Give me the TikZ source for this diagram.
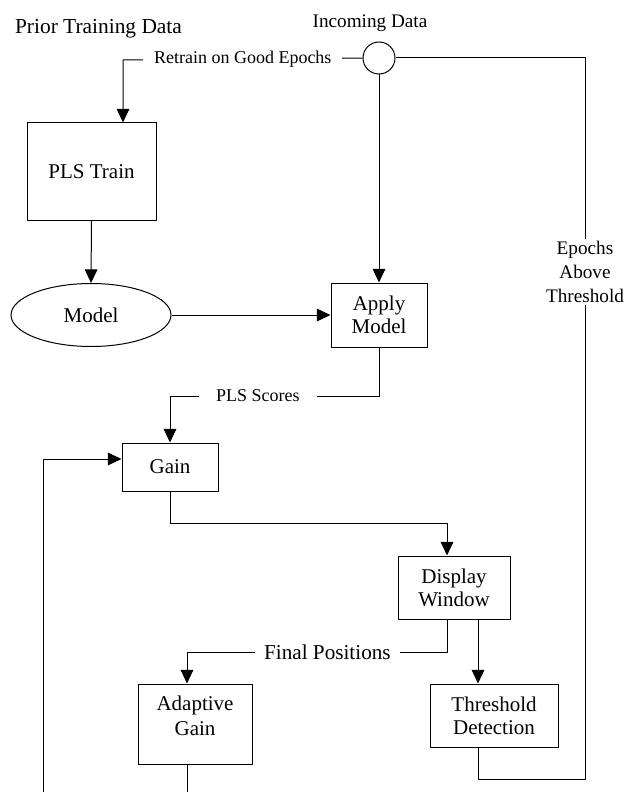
\documentclass[tikz,border=0pt]{standalone}
\usepackage{fontspec}
\setmainfont{Liberation Serif}
\usetikzlibrary{arrows.meta,shapes.geometric}

\tikzset{
  blk/.style={draw, rectangle, line width=0.5pt, inner sep=0pt, align=center,
    font=\fontsize{10.5}{11.5}\selectfont},
  lbl/.style={fill=white, inner ysep=1pt, font=\fontsize{9}{10}\selectfont},
  flow/.style={line width=0.5pt, -{Triangle[length=6.8pt,width=6.3pt]}},
  wire/.style={line width=0.5pt},
}

\begin{document}
\begin{tikzpicture}[x=0.5pt,y=-0.5pt]
\useasboundingbox (0,0) rectangle (629,792);

% inputs
\node[font=\fontsize{10.7}{12}\selectfont] (prior) at (98.5,29) {Prior Training Data};
\node[font=\fontsize{9.6}{11}\selectfont] (incoming) at (370,23) {Incoming Data};
\node[circle, draw, line width=0.5pt, minimum size=16pt, inner sep=0pt] (join) at (379,58) {};

% blocks
\node[blk, minimum width=64.5pt, minimum height=48.5pt] (train) at (91.5,171.5) {PLS Train};
\node[blk, ellipse, minimum width=80pt, minimum height=31.5pt] (model) at (91,315) {Model};
\node[blk, minimum width=48pt, minimum height=32pt] (apply) at (379,315) {Apply\\Model};
\node[blk, minimum width=48pt, minimum height=24pt] (gain) at (170,467) {Gain};
\node[blk, minimum width=56pt, minimum height=31.5pt] (display) at (454,587.5) {Display\\Window};
\node[blk, minimum width=57pt, minimum height=40pt] (adapt) at (195,724) {};
\node[align=center, inner sep=0pt, font=\fontsize{10.5}{12.5}\selectfont] (adaptlbl) at (195,715.5) {Adaptive\\Gain};
\node[blk, minimum width=64pt, minimum height=31.5pt] (thresh) at (494,715.5) {Threshold\\Detection};

% bends
\coordinate (retrain) at (123,60);
\coordinate (scores) at (379,396);
\coordinate (gainout) at (170,523);
\coordinate (final) at (447,652);
\coordinate (adaptout) at (187,792);
\coordinate (drop) at (478,779);
\coordinate (rail) at (585,779);
\coordinate (loop) at (43,792);

% connectors
\draw[flow] (join.west) -- node[lbl, pos=0.5, inner xsep=5.5pt] {Retrain on Good Epochs} (retrain) -- (retrain |- train.north);
\draw[flow] (join.south) -- (apply.north);
\draw[flow] (train.south) -- (model.north);
\draw[flow] (model.east) -- (apply.west);
\draw[flow] (apply.south) -- (scores) -- node[lbl, pos=0.58, inner xsep=8.5pt] {PLS Scores} (scores -| gain.north) -- (gain.north);
\draw[flow] (gain.south) -- (gainout) -- (gainout -| final) -- (final |- display.north);
\draw[flow] (final |- display.south) -- (final) -- node[lbl, pos=0.46, inner xsep=4.5pt, font=\fontsize{10.6}{12}\selectfont] {Final Positions} (final -| adaptout) -- (adaptout |- adapt.north);
\draw[flow] (drop |- display.south) -- (drop |- thresh.north);
\draw[wire] (drop |- thresh.south) -- (drop) -- (rail) -- node[lbl, pos=0.703, align=center, inner xsep=1pt, font=\fontsize{9.6}{12}\selectfont] {Epochs\\Above\\Threshold} (rail |- join.east) -- (join.east);
\draw[wire] (adaptout |- adapt.south) -- (adaptout);
\draw[flow] (loop) |- ([yshift=4pt]gain.west);

\end{tikzpicture}
\end{document}
